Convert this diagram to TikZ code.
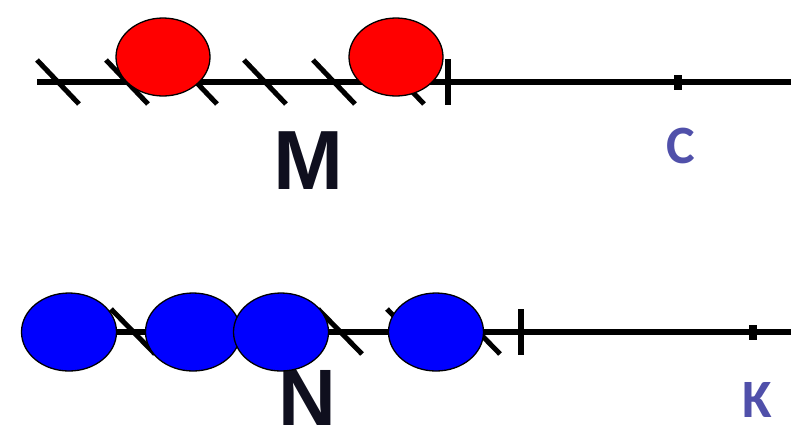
\documentclass[tikz,border=0pt]{standalone}
\usepackage{fontspec}
\setmainfont{Liberation Sans}
\newfontfamily\labfont{Carlito}
\usetikzlibrary{shapes.geometric}
\definecolor{redfill}{RGB}{255,0,0}
\definecolor{bluefill}{RGB}{0,0,255}
\definecolor{labblue}{RGB}{80,80,170}
\definecolor{bigtext}{RGB}{15,15,30}
\tikzset{
  axisline/.style={line width=6pt},
  hatchline/.style={line width=5pt},
  endtick/.style={line width=6.5pt},
  smalltick/.style={line width=8pt},
  redball/.style={ellipse, draw=black, line width=1.3pt, fill=redfill, minimum width=94pt, minimum height=78pt, inner sep=0pt},
  blueball/.style={ellipse, draw=black, line width=1.3pt, fill=bluefill, minimum width=95pt, minimum height=78pt, inner sep=0pt},
  biglabel/.style={anchor=base, inner sep=0pt, text=bigtext, font=\fontsize{84}{84}\selectfont\bfseries},
  smalllabel/.style={anchor=base, inner sep=0pt, text=labblue, font=\labfont\fontsize{54}{54}\selectfont\bfseries}
}
\begin{document}
\begin{tikzpicture}[x=1pt,y=-1pt]
\useasboundingbox (0,0) rectangle (791,432);
% top line
\coordinate (t0) at (37,82);
\coordinate (t1) at (791,82);
\draw[axisline] (t0) -- (t1);
\foreach \x in {58,127,196,265,334,403}{
  \draw[hatchline] (\x-21,60) -- (\x+21,104);
}
\draw[endtick] (448,59) -- (448,105);
\draw[smalltick] (678,75) -- (678,90);
% bottom line
\coordinate (b0) at (45,332);
\coordinate (b1) at (791,332);
\draw[axisline] (b0) -- (b1);
\foreach \x in {64,133,202,271,340,409,478}{
  \draw[hatchline] (\x-22,309) -- (\x+22,354);
}
\draw[endtick] (521,309) -- (521,355);
\draw[smalltick] (753,325) -- (753,340);
% labels
\node[biglabel] (M) at (308,189) {M};
\node[biglabel, font=\fontsize{80}{80}\selectfont\bfseries] (N) at (307,425) {N};
\node[smalllabel] (C) at (681,163) {C};
\node[smalllabel] (K) at (757,417) {K};
% red balls
\node[redball] (r1) at (163,57) {};
\node[redball] (r2) at (396,57) {};
% blue balls
\node[blueball] (u1) at (69,332) {};
\node[blueball] (u2) at (193,332) {};
\node[blueball] (u3) at (281,332) {};
\node[blueball] (u4) at (436,332) {};
\end{tikzpicture}
\end{document}
